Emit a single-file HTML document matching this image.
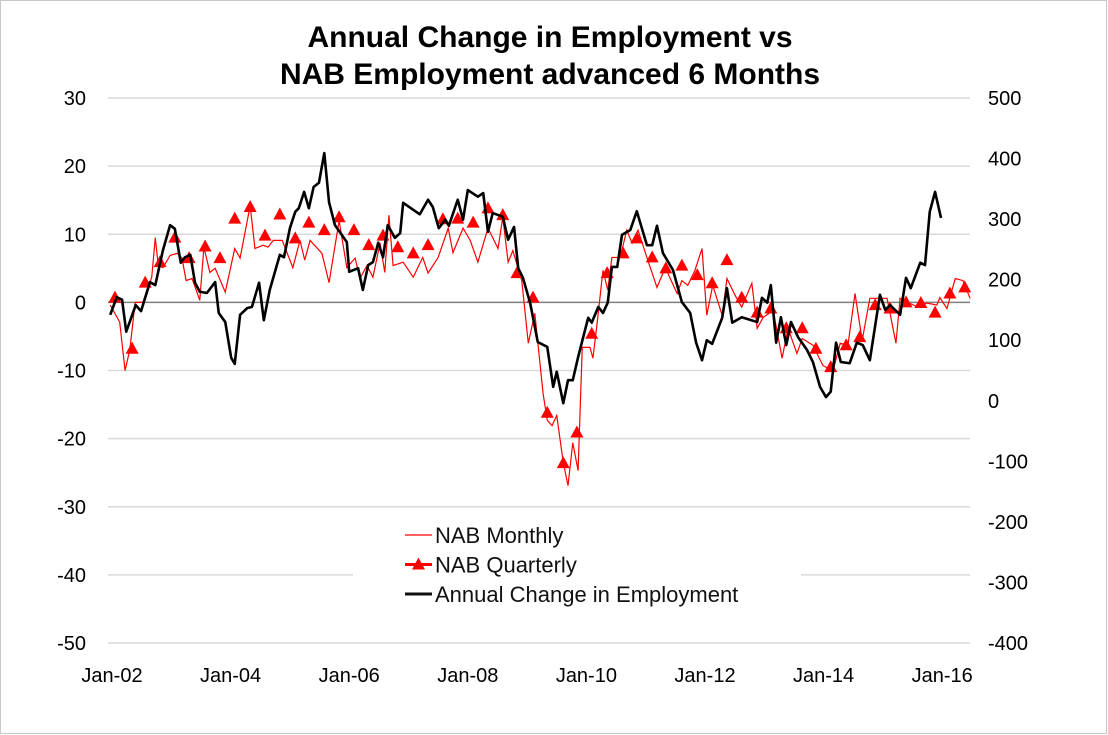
<!DOCTYPE html>
<html><head><meta charset="utf-8"><style>
html,body{margin:0;padding:0;background:#fff;}
svg{display:block;font-family:"Liberation Sans",sans-serif;}
</style></head><body>
<svg id="chart" width="1108" height="735" viewBox="0 0 1108 735">
<rect x="0.5" y="0.5" width="1106" height="733" fill="#fff" stroke="#c8c8c8"/>
<text x="550" y="47" text-anchor="middle" font-size="30" font-weight="bold">Annual Change in Employment vs</text>
<text x="550" y="84" text-anchor="middle" font-size="30" font-weight="bold">NAB Employment advanced 6 Months</text>
<g id="grid"></g><g id="axes"></g><g id="series"></g><g id="legend"></g>
</svg>
<script>
const leftTicks=[30,20,10,0,-10,-20,-30,-40,-50];
const rightTicks=[500,400,300,200,100,0,-100,-200,-300,-400];
const xTickLabels=["Jan-02","Jan-04","Jan-06","Jan-08","Jan-10","Jan-12","Jan-14","Jan-16"];
const xTickYears=[0,2,4,6,8,10,12,14];
// NAB monthly: years since Jan-02, value
const monthlyT=[-0.03,0.13,0.22,0.30,0.39,0.52,0.67,0.73,0.78,0.86,0.98,1.10,1.18,1.25,1.35,1.48,1.55,1.65,1.74,1.91,2.07,2.16,2.33,2.41,2.55,2.63,2.72,2.87,3.05,3.17,3.25,3.34,3.54,3.66,3.83,3.96,4.10,4.18,4.30,4.40,4.52,4.60,4.67,4.74,4.91,5.08,5.24,5.33,5.50,5.67,5.75,5.92,6.04,6.17,6.34,6.51,6.59,6.68,6.76,6.91,7.02,7.13,7.27,7.34,7.42,7.50,7.61,7.69,7.77,7.86,7.93,8.06,8.11,8.18,8.28,8.36,8.43,8.57,8.68,8.77,8.87,9.02,9.19,9.33,9.53,9.61,9.71,9.83,9.95,10.03,10.13,10.29,10.37,10.51,10.62,10.79,10.88,10.98,11.15,11.30,11.40,11.55,11.64,11.82,11.99,12.16,12.28,12.41,12.53,12.65,12.78,12.95,13.07,13.22,13.29,13.42,13.59,13.74,13.91,13.96,14.08,14.22,14.35,14.47];
const monthlyV=[-0.4,-2.9,-10,-7,0,0,3.7,9.5,5.4,5.1,6.9,7.2,6.5,3.2,3.5,0.3,8.1,4.4,5.0,1.5,7.9,6.5,14.2,7.9,8.4,8.1,9.1,9.1,5.1,9.1,6.2,9.1,7.2,2.9,12.0,5.1,6.5,3.5,5.4,3.7,8.7,4.4,12.8,5.4,5.9,3.7,6.6,4.3,6.6,10.9,7.3,10.9,9.1,5.9,10.9,7.9,12.5,5.9,7.6,3.2,-6.0,-1.6,-13.4,-17.3,-18.1,-16.6,-23.5,-26.9,-20.6,-24.7,-6.6,-6.6,-8.2,-3.1,4.7,1.8,6.6,6.6,10.6,8.7,10.6,6.6,2.2,5.1,1.3,3.2,2.5,4.7,7.9,-1.9,2.5,-1.9,3.5,1.0,-0.7,2.8,-3.8,-2.2,-1.2,-8.2,-3.8,-7.5,-5.3,-6.3,-9.3,-10.0,-6.0,-6.3,1.3,-5.6,0.6,0.6,0.6,-6.0,0.6,0,-0.7,-0.1,-0.4,0.7,-0.9,3.5,3.2,0.6];
const quarterlyT=[0.05,0.34,0.56,0.81,1.06,1.30,1.57,1.82,2.07,2.33,2.58,2.83,3.09,3.32,3.58,3.83,4.08,4.33,4.57,4.82,5.08,5.33,5.58,5.83,6.09,6.34,6.59,6.83,7.10,7.34,7.61,7.84,8.09,8.35,8.62,8.85,9.11,9.34,9.61,9.87,10.12,10.37,10.62,10.88,11.11,11.37,11.64,11.87,12.12,12.38,12.61,12.87,13.12,13.39,13.64,13.88,14.13,14.38];
const quarterlyV=[0.7,-6.8,2.9,5.9,9.5,6.5,8.2,6.5,12.3,14.0,9.8,12.9,9.4,11.7,10.6,12.5,10.6,8.4,9.8,8.1,7.2,8.4,12.2,12.3,11.7,13.8,12.8,4.3,0.7,-16.2,-23.6,-19.1,-4.6,4.3,7.2,9.4,6.6,5.0,5.4,4.0,2.8,6.2,0.7,-1.5,-0.9,-3.8,-3.8,-6.8,-9.5,-6.3,-5.1,-0.4,-0.9,0.0,-0.1,-1.5,1.3,2.2];
// Annual change in employment ('000), right axis
const empT=[-0.03,0.08,0.17,0.24,0.40,0.49,0.64,0.73,0.86,0.98,1.06,1.16,1.23,1.32,1.40,1.48,1.60,1.74,1.80,1.91,2.01,2.07,2.16,2.28,2.36,2.48,2.56,2.66,2.83,2.90,3.00,3.09,3.15,3.24,3.32,3.40,3.49,3.58,3.66,3.76,3.96,4.00,4.15,4.23,4.32,4.40,4.49,4.57,4.65,4.77,4.86,4.91,5.19,5.33,5.41,5.51,5.62,5.68,5.83,5.92,6.00,6.17,6.26,6.34,6.42,6.59,6.68,6.78,6.85,6.93,7.05,7.18,7.34,7.44,7.50,7.61,7.69,7.77,7.86,8.03,8.09,8.20,8.28,8.36,8.43,8.52,8.60,8.74,8.85,9.02,9.11,9.19,9.29,9.46,9.61,9.75,9.85,9.95,10.03,10.12,10.29,10.37,10.46,10.62,10.88,10.96,11.05,11.11,11.20,11.28,11.37,11.45,11.57,11.72,11.82,11.94,12.04,12.12,12.21,12.29,12.44,12.56,12.66,12.78,12.95,13.04,13.12,13.29,13.39,13.47,13.63,13.71,13.79,13.88,13.98];
const empV=[142,171,167,114,158,148,196,191,249,290,284,228,237,241,195,180,178,196,145,130,71,61,142,153,155,195,133,183,241,237,285,312,318,345,318,353,360,409,328,290,262,213,219,183,224,229,261,237,290,269,277,327,308,332,320,285,299,289,332,299,348,337,343,279,310,304,266,287,219,203,162,97,89,23,48,-4,34,34,72,137,129,155,145,162,221,221,274,282,313,257,257,289,244,216,163,145,96,67,100,94,137,186,129,138,130,170,162,191,96,138,92,130,105,84,64,23,6,15,96,64,62,96,92,67,175,150,158,142,203,186,228,224,312,345,302];

const NS="http://www.w3.org/2000/svg";
const X0=112, PXY=59.3, PL=108, PR=970, YT=98, YB=643;
const xS=t=>X0+t*PXY;
const yL=v=>YT+(30-v)*(YB-YT)/80;
const yR=v=>YT+(500-v)*(YB-YT)/900;
function mk(tag,attrs,parent){const e=document.createElementNS(NS,tag);for(const k in attrs)e.setAttribute(k,attrs[k]);parent.appendChild(e);return e;}
const grid=document.getElementById('grid'),axes=document.getElementById('axes'),series=document.getElementById('series'),legend=document.getElementById('legend');
leftTicks.forEach(v=>{
  if(v===0)return;
  const y=yL(v);
  const g=mk('line',{x1:PL,x2:PR,y1:y,y2:y,stroke:'#d9d9d9','stroke-width':1.5},grid);
  
  
});
leftTicks.forEach(v=>{
  const t=mk('text',{x:86,y:yL(v)+7,'text-anchor':'end','font-size':20,fill:'#000'},axes);
  t.textContent=v;
  
  
});
rightTicks.forEach(v=>{
  const t=mk('text',{x:988,y:yR(v)+7,'text-anchor':'start','font-size':20,fill:'#000'},axes);
  t.textContent=v;
  
  
});
xTickLabels.forEach((s,i)=>{
  const t=mk('text',{x:xS(xTickYears[i]),y:682,'text-anchor':'middle','font-size':20,fill:'#000'},axes);
  t.textContent=s;
  
  
});
const z=mk('line',{x1:PL,x2:PR,y1:yL(0),y2:yL(0),stroke:'#7f7f7f','stroke-width':1.5},grid);



const mp=mk('polyline',{points:monthlyT.map((t,i)=>xS(t)+','+yL(monthlyV[i])).join(' '),fill:'none',stroke:'#ff0000','stroke-width':1.2},series);


quarterlyT.forEach((t,i)=>{
  const x=xS(t),y=yL(quarterlyV[i]);
  const p=mk('polygon',{points:`${x},${y-7} ${x+6.5},${y+5} ${x-6.5},${y+5}`,fill:'#ff0000'},series);
  
  
});
const ep=mk('polyline',{points:empT.map((t,i)=>xS(t)+','+yR(empV[i])).join(' '),fill:'none',stroke:'#000','stroke-width':2.6,'stroke-linejoin':'round'},series);



const lb=mk('rect',{x:353,y:518,width:448,height:95,fill:'#fff'},legend);


const entries=[["NAB Monthly","#ff0000",1.2,false],["NAB Quarterly","#ff0000",3,true],["Annual Change in Employment","#111",3,false]];
entries.forEach((e,i)=>{
  const y=535+i*29.5;
  const g=mk('g',{},legend);
  
  
  mk('line',{x1:405,x2:432,y1:y,y2:y,stroke:e[1],'stroke-width':e[2]},g);
  if(e[3])mk('polygon',{points:`418.5,${y-7} 425,${y+5} 412,${y+5}`,fill:'#ff0000'},g);
  const t=mk('text',{x:435,y:y+8,'font-size':22,fill:'#111'},g);
  t.textContent=e[0];
});
</script>
</body></html>
